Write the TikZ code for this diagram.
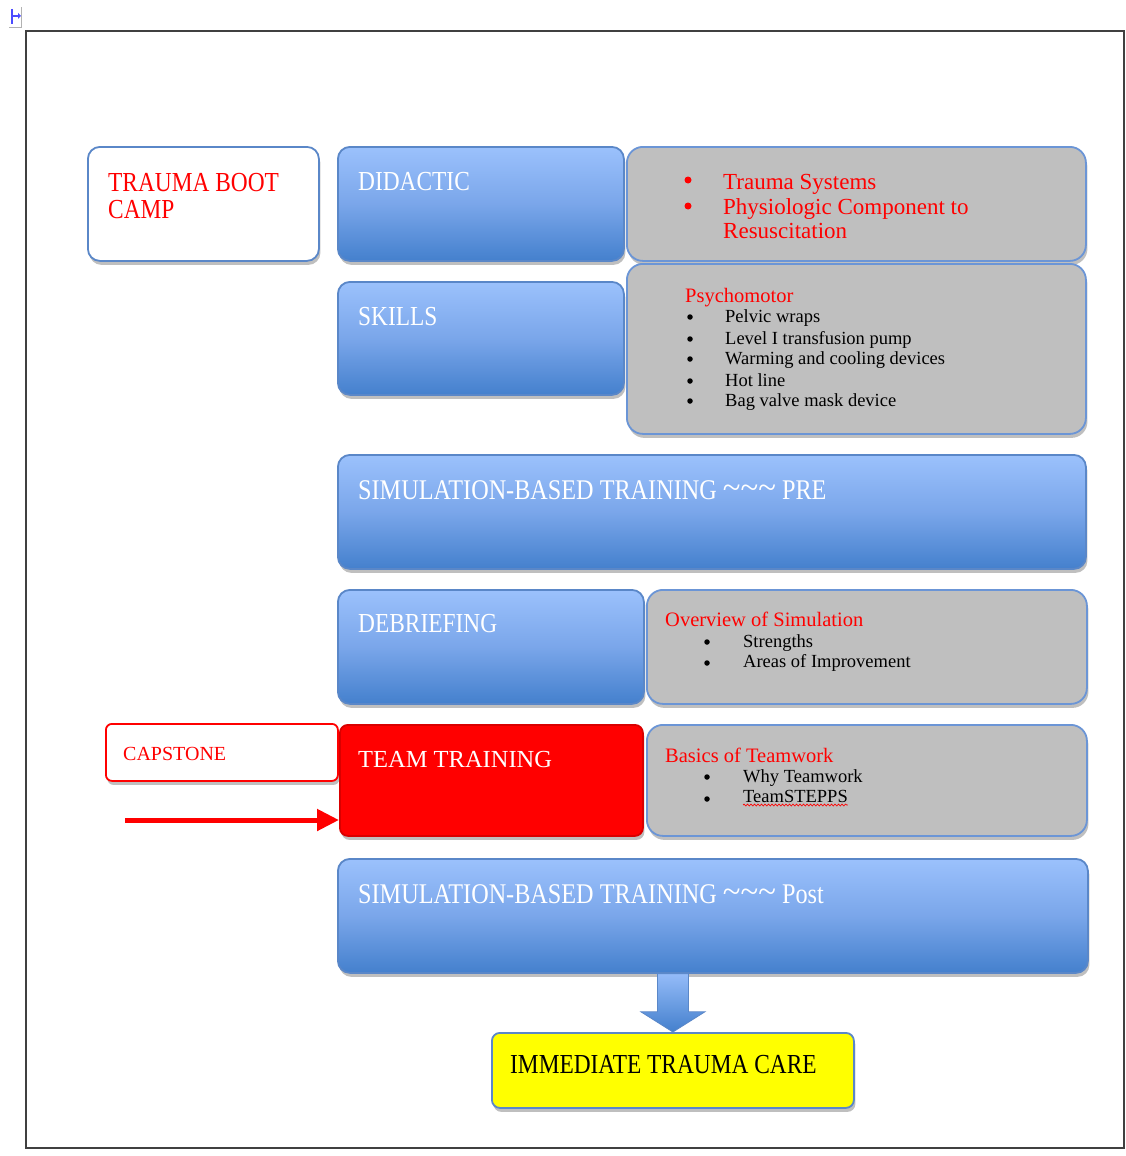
\documentclass[tikz,border=0pt]{standalone}
\usepackage{fontspec}
\setmainfont{Liberation Serif}
\newfontfamily\headfont[FakeStretch=0.85]{Liberation Serif}
\usetikzlibrary{shadows,calc,arrows.meta,decorations.pathmorphing}
\definecolor{boxblue}{HTML}{5A87C8}
\definecolor{greyblue}{HTML}{6B95D6}
\definecolor{bluetop}{HTML}{9BC1FC}
\definecolor{bluemid}{HTML}{7AA6EA}
\definecolor{bluebot}{HTML}{4480CD}
\definecolor{greyfill}{HTML}{BFBFBF}
\definecolor{redtxt}{HTML}{FF0000}
\definecolor{yel}{HTML}{FFFF00}
\definecolor{framegray}{HTML}{404040}
\newcommand{\mytildes}{\raisebox{0.02em}{\scalebox{1.35}[1.15]{\char`\~\char`\~\char`\~}}}
\tikzset{
  boxbase/.style={rounded corners=12pt, line width=1.8pt, anchor=north west, inner sep=0pt,
    drop shadow={shadow xshift=1.5pt, shadow yshift=-4pt, opacity=0.25, fill=black}},
  bluebox/.style={boxbase, draw=boxblue, top color=bluetop, bottom color=bluebot, middle color=bluemid},
  greybox/.style={boxbase, draw=greyblue, fill=greyfill, rounded corners=16pt},
  whitebox/.style={boxbase, draw=boxblue, fill=white},
  redbox/.style={boxbase, draw=red!85!black, fill=red, rounded corners=8pt},
  capbox/.style={boxbase, draw=red, fill=white, rounded corners=6pt},
  yelbox/.style={boxbase, draw=boxblue, fill=yel, rounded corners=8pt},
  lbl/.style={anchor=base west, inner sep=0pt},
  headtxt/.style={lbl, text=white, font=\headfont\fontsize{27.5}{30}\selectfont},
  simtxt/.style={lbl, text=white, font=\headfont\fontsize{28.5}{30}\selectfont},
  redhead/.style={lbl, text=redtxt, font=\fontsize{20.5}{22}\selectfont},
  redbig/.style={lbl, text=redtxt, font=\fontsize{23}{25}\selectfont},
  blk/.style={lbl, text=black, font=\fontsize{18.5}{20}\selectfont},
  dotb/.style={circle, fill=black, inner sep=0pt, minimum size=5.5pt},
  dotr/.style={circle, fill=redtxt, inner sep=0pt, minimum size=7pt},
}
\begin{document}
\begin{tikzpicture}[x=1pt,y=-1pt]
\useasboundingbox (0,0) rectangle (1125,1156);
\fill[white] (0,0) rectangle (1125,1156);
% anchor icon
\draw[gray!60, line width=1pt] (9,28) -- (21,28) -- (21,7);
\draw[blue!70, line width=1.2pt] (12,9) -- (12,24) (12,16) -- (18,16);
\fill[blue!70] (18,13) -- (21,16) -- (18,19) -- cycle;
% frame
\draw[framegray, line width=2pt] (26,31) rectangle (1124,1148);

% boxes
\node[whitebox, minimum width=231pt, minimum height=114pt] (boot) at (87,146) {};
\node[bluebox, minimum width=286pt, minimum height=114pt] (did) at (337,146) {};
\node[greybox, minimum width=459pt, minimum height=114pt] (didg) at (626,146) {};
\node[bluebox, minimum width=286pt, minimum height=113pt] (skl) at (337,281) {};
\node[greybox, minimum width=459pt, minimum height=170pt] (sklg) at (626,263) {};
\node[bluebox, minimum width=748pt, minimum height=114pt] (pre) at (337,454) {};
\node[bluebox, minimum width=306pt, minimum height=114pt] (deb) at (337,589) {};
\node[greybox, minimum width=440pt, minimum height=114pt] (debg) at (646,589) {};
\node[capbox, minimum width=232pt, minimum height=57pt] (cap) at (105,723) {};
\node[redbox, minimum width=303pt, minimum height=111pt] (team) at (339,724) {};
\node[greybox, minimum width=440pt, minimum height=111pt] (teamg) at (646,724) {};
\node[bluebox, minimum width=750pt, minimum height=114pt] (post) at (337,858) {};
\node[yelbox, minimum width=362pt, minimum height=75pt] (care) at (491,1032) {};

% labels
\node[lbl, text=redtxt, font=\headfont\fontsize{27.5}{30}\selectfont] (bootl1) at (108,191) {TRAUMA BOOT};
\node[lbl, text=redtxt, font=\headfont\fontsize{27.5}{30}\selectfont] (bootl2) at (108,218) {CAMP};
\node[headtxt] (didl) at (358,190) {DIDACTIC};
\node[headtxt] (skll) at (358,325) {SKILLS};
\node[simtxt] (prel) at (358,499) {SIMULATION-BASED TRAINING \mytildes{} PRE};
\node[headtxt] (debl) at (358,632) {DEBRIEFING};
\node[lbl, text=redtxt, font=\fontsize{20}{22}\selectfont] (capl) at (123,760) {CAPSTONE};
\node[lbl, text=white, font=\fontsize{24.5}{26}\selectfont] (teaml) at (358,767) {TEAM TRAINING};
\node[simtxt] (postl) at (358,903) {SIMULATION-BASED TRAINING \mytildes{} Post};
\node[lbl, text=black, font=\headfont\fontsize{27.5}{30}\selectfont] (carel) at (510,1073) {IMMEDIATE TRAUMA CARE};

% didactic list
\node[dotr] (d1) at (688,180) {};
\node[dotr] (d2) at (688,206) {};
\node[redbig] (d1t) at (723,189) {Trauma Systems};
\node[redbig] (d2t) at (723,214) {Physiologic Component to};
\node[redbig] (d3t) at (723,238) {Resuscitation};

% skills list
\node[redhead] (psy) at (685,302) {Psychomotor};
\node[dotb] (s1) at (690,317) {};
\node[dotb] (s2) at (690,339) {};
\node[dotb] (s3) at (690,359) {};
\node[dotb] (s4) at (690,381) {};
\node[dotb] (s5) at (690,401) {};
\node[blk] (s1t) at (725,322) {Pelvic wraps};
\node[blk] (s2t) at (725,344) {Level I transfusion pump};
\node[blk] (s3t) at (725,364) {Warming and cooling devices};
\node[blk] (s4t) at (725,386) {Hot line};
\node[blk] (s5t) at (725,406) {Bag valve mask device};

% debriefing list
\node[redhead] (ovs) at (665,626) {Overview of Simulation};
\node[dotb] (b1) at (707,642) {};
\node[dotb] (b2) at (707,663) {};
\node[blk] (b1t) at (743,647) {Strengths};
\node[blk] (b2t) at (743,667) {Areas of Improvement};

% team list
\node[redhead] (bot) at (665,762) {Basics of Teamwork};
\node[dotb] (t1) at (707,777) {};
\node[dotb] (t2) at (707,799) {};
\node[blk] (t1t) at (743,782) {Why Teamwork};
\node[blk] (t2t) at (743,802) {TeamSTEPPS};
\draw[redtxt, line width=0.7pt, decorate, decoration={snake, amplitude=0.9pt, segment length=3.5pt}]
  ($(t2t.base west)+(0,3)$) -- ($(t2t.base east)+(0,3)$);

% red arrow
\coordinate (arrs) at (125,820);
\draw[redtxt, line width=5pt, -{Triangle[length=22pt,width=21pt]}] (arrs) -- (arrs -| team.west);

% block arrow down
\coordinate (ba) at (care.north |- post.south);
\path[draw=boxblue, line width=0.8pt, top color=bluetop!80!bluemid, bottom color=bluebot]
  ($(ba)+(-15.5,0)$) -- ($(ba)+(-15.5,38)$) -- ($(ba)+(-32,38)$) -- (care.north)
  -- ($(ba)+(32,38)$) -- ($(ba)+(15.5,38)$) -- ($(ba)+(15.5,0)$) -- cycle;
\end{tikzpicture}
\end{document}
